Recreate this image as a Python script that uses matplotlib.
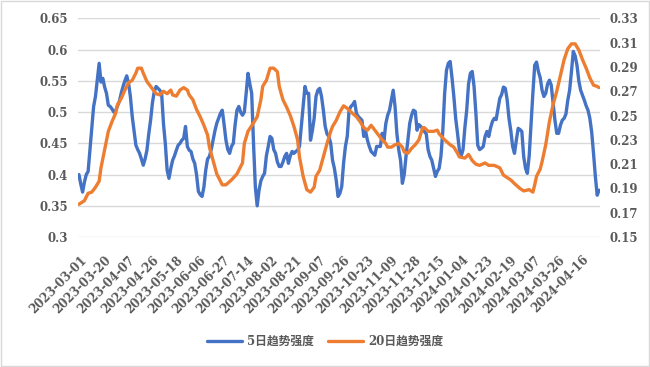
import matplotlib
matplotlib.use("Agg")
import matplotlib.pyplot as plt
import matplotlib.transforms as mtransforms
from matplotlib.patches import Rectangle

plt.rcParams['font.family'] = ['DejaVu Serif', 'Noto Sans CJK SC']

# trading-day axis: 284 days, one label every 13 days
N_DAYS = 284
tick_labels = ['2023-03-01', '2023-03-20', '2023-04-07', '2023-04-26', '2023-05-18',
               '2023-06-06', '2023-06-27', '2023-07-14', '2023-08-02', '2023-08-21',
               '2023-09-07', '2023-09-26', '2023-10-23', '2023-11-09', '2023-11-28',
               '2023-12-15', '2024-01-04', '2024-01-23', '2024-02-19', '2024-03-07',
               '2024-03-26', '2024-04-16']
tick_step = 13

# 5日趋势强度 (left axis), one value per trading day
blue_idx = list(range(0, 284))
blue_val = [
    0.400, 0.385, 0.372, 0.388, 0.400, 0.405, 0.440, 0.475, 0.509, 0.525,
    0.551, 0.578, 0.548, 0.554, 0.540, 0.530, 0.511, 0.509, 0.505, 0.500,
    0.502, 0.510, 0.517, 0.530, 0.541, 0.550, 0.558, 0.546, 0.525, 0.493,
    0.470, 0.447, 0.440, 0.434, 0.425, 0.415, 0.425, 0.439, 0.465, 0.487,
    0.515, 0.533, 0.541, 0.538, 0.535, 0.530, 0.482, 0.450, 0.407, 0.394,
    0.410, 0.423, 0.430, 0.439, 0.447, 0.450, 0.455, 0.458, 0.477, 0.445,
    0.439, 0.437, 0.425, 0.418, 0.400, 0.373, 0.368, 0.365, 0.380, 0.407,
    0.425, 0.429, 0.440, 0.455, 0.470, 0.482, 0.490, 0.498, 0.503, 0.480,
    0.455, 0.440, 0.434, 0.445, 0.450, 0.480, 0.503, 0.509, 0.500, 0.495,
    0.500, 0.530, 0.562, 0.545, 0.530, 0.450, 0.380, 0.350, 0.375, 0.390,
    0.397, 0.402, 0.430, 0.445, 0.461, 0.458, 0.440, 0.434, 0.420, 0.413,
    0.413, 0.420, 0.429, 0.434, 0.418, 0.430, 0.437, 0.434, 0.437, 0.439,
    0.445, 0.477, 0.510, 0.541, 0.530, 0.530, 0.455, 0.470, 0.490, 0.525,
    0.535, 0.538, 0.525, 0.503, 0.477, 0.465, 0.461, 0.450, 0.423, 0.410,
    0.391, 0.365, 0.370, 0.381, 0.418, 0.445, 0.461, 0.503, 0.509, 0.512,
    0.517, 0.498, 0.493, 0.490, 0.487, 0.461, 0.469, 0.455, 0.445, 0.437,
    0.434, 0.431, 0.445, 0.445, 0.445, 0.466, 0.455, 0.482, 0.495, 0.503,
    0.519, 0.535, 0.509, 0.466, 0.440, 0.423, 0.386, 0.400, 0.430, 0.455,
    0.482, 0.495, 0.503, 0.501, 0.471, 0.480, 0.477, 0.474, 0.469, 0.465,
    0.440, 0.429, 0.423, 0.410, 0.397, 0.405, 0.410, 0.430, 0.470, 0.530,
    0.567, 0.578, 0.581, 0.555, 0.525, 0.490, 0.466, 0.440, 0.430, 0.440,
    0.475, 0.503, 0.545, 0.562, 0.565, 0.541, 0.498, 0.447, 0.440, 0.442,
    0.445, 0.461, 0.469, 0.461, 0.475, 0.485, 0.490, 0.488, 0.505, 0.522,
    0.528, 0.540, 0.538, 0.520, 0.490, 0.470, 0.445, 0.434, 0.455, 0.474,
    0.472, 0.469, 0.429, 0.410, 0.402, 0.430, 0.480, 0.530, 0.575, 0.580,
    0.565, 0.555, 0.535, 0.525, 0.530, 0.545, 0.551, 0.543, 0.515, 0.487,
    0.466, 0.466, 0.479, 0.487, 0.490, 0.497, 0.519, 0.535, 0.565, 0.597,
    0.590, 0.575, 0.550, 0.535, 0.527, 0.519, 0.510, 0.503, 0.490, 0.468,
    0.434, 0.397, 0.367, 0.375,
]

# 20日趋势强度 (right axis), sampled by trading-day index
orange_idx = [0, 3, 5, 7, 9, 11, 12, 14, 16, 18, 20, 21, 23, 25, 27, 29, 31, 32, 34, 35,
              37, 39, 40, 42, 44, 46, 48, 50, 51, 53, 55, 57, 59, 60, 62, 64, 66, 68, 70, 71,
              73, 75, 78, 80, 83, 86, 89, 90, 92, 95, 97, 99, 100, 102, 104, 106, 108, 109, 111, 113,
              115, 117, 119, 120, 122, 124, 126, 128, 129, 131, 133, 135, 137, 138, 140, 142, 144, 146, 148, 151,
              153, 155, 157, 159, 161, 163, 165, 167, 168, 170, 172, 174, 176, 177, 179, 181, 183, 185, 186, 187,
              188, 190, 193, 195, 196, 199, 202, 204, 206, 207, 210, 212, 214, 216, 218, 221, 223, 226, 229, 231,
              235, 237, 240, 242, 245, 247, 248, 249, 251, 252, 254, 256, 258, 260, 262, 264, 266, 268, 270, 272,
              274, 276, 278, 280, 282, 283]
orange_val = [0.177, 0.180, 0.186, 0.187, 0.191, 0.196, 0.207, 0.222, 0.237, 0.245,
              0.252, 0.259, 0.264, 0.271, 0.277, 0.279, 0.285, 0.289, 0.289, 0.285,
              0.278, 0.274, 0.272, 0.268, 0.267, 0.270, 0.268, 0.271, 0.267, 0.266,
              0.271, 0.273, 0.271, 0.267, 0.263, 0.255, 0.249, 0.242, 0.234, 0.224,
              0.213, 0.202, 0.193, 0.193, 0.197, 0.202, 0.211, 0.227, 0.237, 0.244,
              0.249, 0.263, 0.274, 0.279, 0.289, 0.289, 0.286, 0.274, 0.263, 0.257,
              0.250, 0.241, 0.230, 0.216, 0.200, 0.189, 0.187, 0.191, 0.200, 0.205,
              0.216, 0.227, 0.237, 0.241, 0.246, 0.253, 0.258, 0.256, 0.253, 0.249,
              0.245, 0.240, 0.238, 0.242, 0.238, 0.234, 0.230, 0.227, 0.224, 0.224,
              0.226, 0.227, 0.224, 0.220, 0.219, 0.223, 0.226, 0.230, 0.235, 0.240,
              0.240, 0.237, 0.237, 0.238, 0.235, 0.230, 0.226, 0.224, 0.219, 0.216,
              0.215, 0.218, 0.213, 0.210, 0.209, 0.211, 0.209, 0.209, 0.207, 0.201,
              0.197, 0.194, 0.190, 0.188, 0.189, 0.187, 0.193, 0.200, 0.206, 0.212,
              0.226, 0.245, 0.259, 0.270, 0.283, 0.296, 0.305, 0.309, 0.309, 0.304,
              0.296, 0.289, 0.281, 0.275, 0.274, 0.273]

BLUE = '#4472C4'
ORANGE = '#ED7D31'
TEXT = '#595959'
GRID = '#D9D9D9'

fig = plt.figure(figsize=(6.5, 3.67), dpi=100)
ax = fig.add_axes([0.12, 0.354, 0.803, 0.596])
ax2 = ax.twinx()

ax.plot(blue_idx, blue_val, color=BLUE, lw=2.4, label='5日趋势强度', solid_capstyle='round')
ax2.plot(orange_idx, orange_val, color=ORANGE, lw=2.4, label='20日趋势强度', solid_capstyle='round')

ax.set_xlim(-0.5, N_DAYS - 0.5)
ax.set_ylim(0.3, 0.65)
ax2.set_ylim(0.15, 0.33)

left_ticks = [0.3, 0.35, 0.4, 0.45, 0.5, 0.55, 0.6, 0.65]
ax.set_yticks(left_ticks)
ax.set_yticklabels([f'{t:g}' for t in left_ticks])
right_ticks = [0.15, 0.17, 0.19, 0.21, 0.23, 0.25, 0.27, 0.29, 0.31, 0.33]
ax2.set_yticks(right_ticks)
ax2.set_yticklabels([f'{t:g}' for t in right_ticks])

ax.set_xticks([i * tick_step for i in range(len(tick_labels))])
ax.set_xticklabels(tick_labels, rotation=45, ha='right', va='center', rotation_mode='anchor')

ax.grid(axis='y', color=GRID, lw=1)
ax.set_axisbelow(True)
for a in (ax, ax2):
    for s in a.spines.values():
        s.set_visible(False)
    a.tick_params(length=0, colors=TEXT, labelsize=8.5)
    for lab in a.get_xticklabels() + a.get_yticklabels():
        lab.set_fontweight('bold')
ax.tick_params(axis='y', pad=7)
ax2.tick_params(axis='y', pad=7)
ax.tick_params(axis='x', pad=15)

# nudge the rotated date labels to the right, like Excel places them
shift = mtransforms.ScaledTranslation(6 / 100, 0, fig.dpi_scale_trans)
for lab in ax.get_xticklabels():
    lab.set_transform(lab.get_transform() + shift)

h1, l1 = ax.get_legend_handles_labels()
h2, l2 = ax2.get_legend_handles_labels()
leg = fig.legend(h1 + h2, l1 + l2, loc='center', bbox_to_anchor=(0.5, 0.07), ncol=2,
                 frameon=False, handlelength=3.0, columnspacing=1.2, handletextpad=0.4,
                 prop={'weight': 'bold', 'size': 8.5})
for t in leg.get_texts():
    t.set_color(TEXT)

fig.patches.append(Rectangle((0.002, 0.003), 0.996, 0.994, transform=fig.transFigure,
                             fill=False, edgecolor='#D9D9D9', lw=1))

fig.savefig('out.png', dpi=100)
